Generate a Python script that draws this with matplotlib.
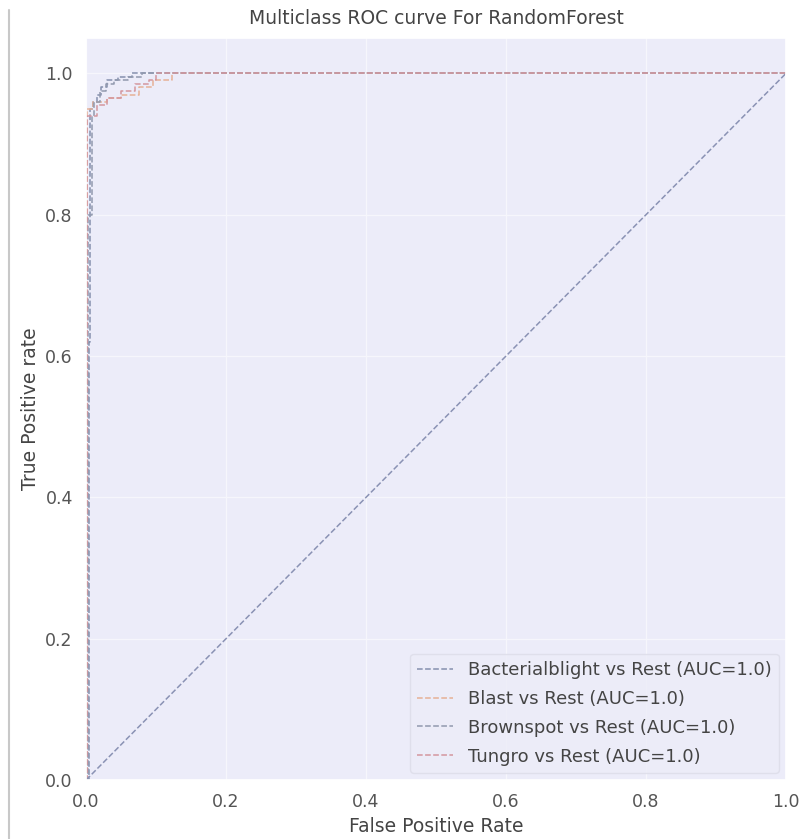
import matplotlib
matplotlib.use("Agg")
import matplotlib.pyplot as plt
import seaborn as sns
from matplotlib.lines import Line2D

sns.set_theme(style="darkgrid")
plt.rcParams['font.family'] = ['DejaVu Sans']

# ROC curves, values
classes = ['Bacterialblight', 'Blast', 'Brownspot', 'Tungro']
auc = [1.0, 1.0, 1.0, 1.0]

fpr_bb = [0.0, 0.004, 0.004, 0.006, 0.006, 0.010, 0.010, 0.015, 0.015, 0.022, 0.022, 0.030, 0.030, 0.045, 0.045, 0.065, 0.065, 1.0]
tpr_bb = [0.0, 0.0, 0.62, 0.62, 0.95, 0.95, 0.96, 0.96, 0.97, 0.97, 0.98, 0.98, 0.99, 0.99, 0.995, 0.995, 1.0, 1.0]

fpr_bl = [0.0, 0.002, 0.002, 0.010, 0.010, 0.030, 0.030, 0.050, 0.050, 0.075, 0.075, 0.095, 0.095, 0.123, 0.123, 1.0]
tpr_bl = [0.0, 0.0, 0.95, 0.95, 0.96, 0.96, 0.965, 0.965, 0.97, 0.97, 0.98, 0.98, 0.99, 0.99, 1.0, 1.0]

fpr_bs = [0.0, 0.003, 0.003, 0.008, 0.008, 0.012, 0.012, 0.020, 0.020, 0.028, 0.028, 0.040, 0.040, 0.060, 0.060, 0.080, 0.080, 1.0]
tpr_bs = [0.0, 0.0, 0.80, 0.80, 0.94, 0.94, 0.96, 0.96, 0.975, 0.975, 0.985, 0.985, 0.99, 0.99, 0.995, 0.995, 1.0, 1.0]

fpr_tu = [0.0, 0.002, 0.002, 0.015, 0.015, 0.030, 0.030, 0.050, 0.050, 0.070, 0.070, 0.090, 0.090, 0.100, 0.100, 1.0]
tpr_tu = [0.0, 0.0, 0.94, 0.94, 0.955, 0.955, 0.965, 0.965, 0.975, 0.975, 0.985, 0.985, 0.99, 0.99, 1.0, 1.0]

fprs = [fpr_bb, fpr_bl, fpr_bs, fpr_tu]
tprs = [tpr_bb, tpr_bl, tpr_bs, tpr_tu]
colors = ['#8590ae', '#e6b096', '#9199ae', '#d4969e']

fig = plt.figure(figsize=(8.07, 8.39), dpi=100)
fig.patch.set_facecolor('white')
ax = fig.add_axes([0.1066, 0.0703, 0.8674, 0.8844])
ax.set_facecolor('#ececf9')
ax.grid(color='#f6f6fc', lw=1.0)

for name, fp, tp, c, a in zip(classes, fprs, tprs, colors, auc):
    ax.plot(fp, tp, linestyle='--', color=c, lw=1.1,
            label=f'{name} vs Rest (AUC={a})')

# chance line
ax.plot([0, 1], [0, 1], linestyle='--', color='#8a92b4', lw=1.1)

ax.set_xlim(0, 1)
ax.set_ylim(0, 1.05)
ax.set_xticks([0, 0.2, 0.4, 0.6, 0.8, 1.0])
ax.set_yticks([0, 0.2, 0.4, 0.6, 0.8, 1.0])
ax.tick_params(labelsize=12.5, labelcolor='#555555')
ax.set_title('Multiclass ROC curve For RandomForest', fontsize=13.5, color='#444444', pad=10)
ax.set_xlabel('False Positive Rate', fontsize=13.5, color='#444444')
ax.set_ylabel('True Positive rate', fontsize=13.5, color='#444444')
leg = ax.legend(loc='lower right', fontsize=13, labelcolor='#444444',
                handlelength=2.0, labelspacing=0.6, borderaxespad=0.4)
leg.get_frame().set_facecolor('#ececf8')
leg.get_frame().set_edgecolor('#dcdce8')

# screenshot border on the left
fig.add_artist(Line2D([0.011, 0.011], [0.0, 0.988], color='#c8c8c8', lw=1.5))

fig.savefig('out.png', dpi=100)
